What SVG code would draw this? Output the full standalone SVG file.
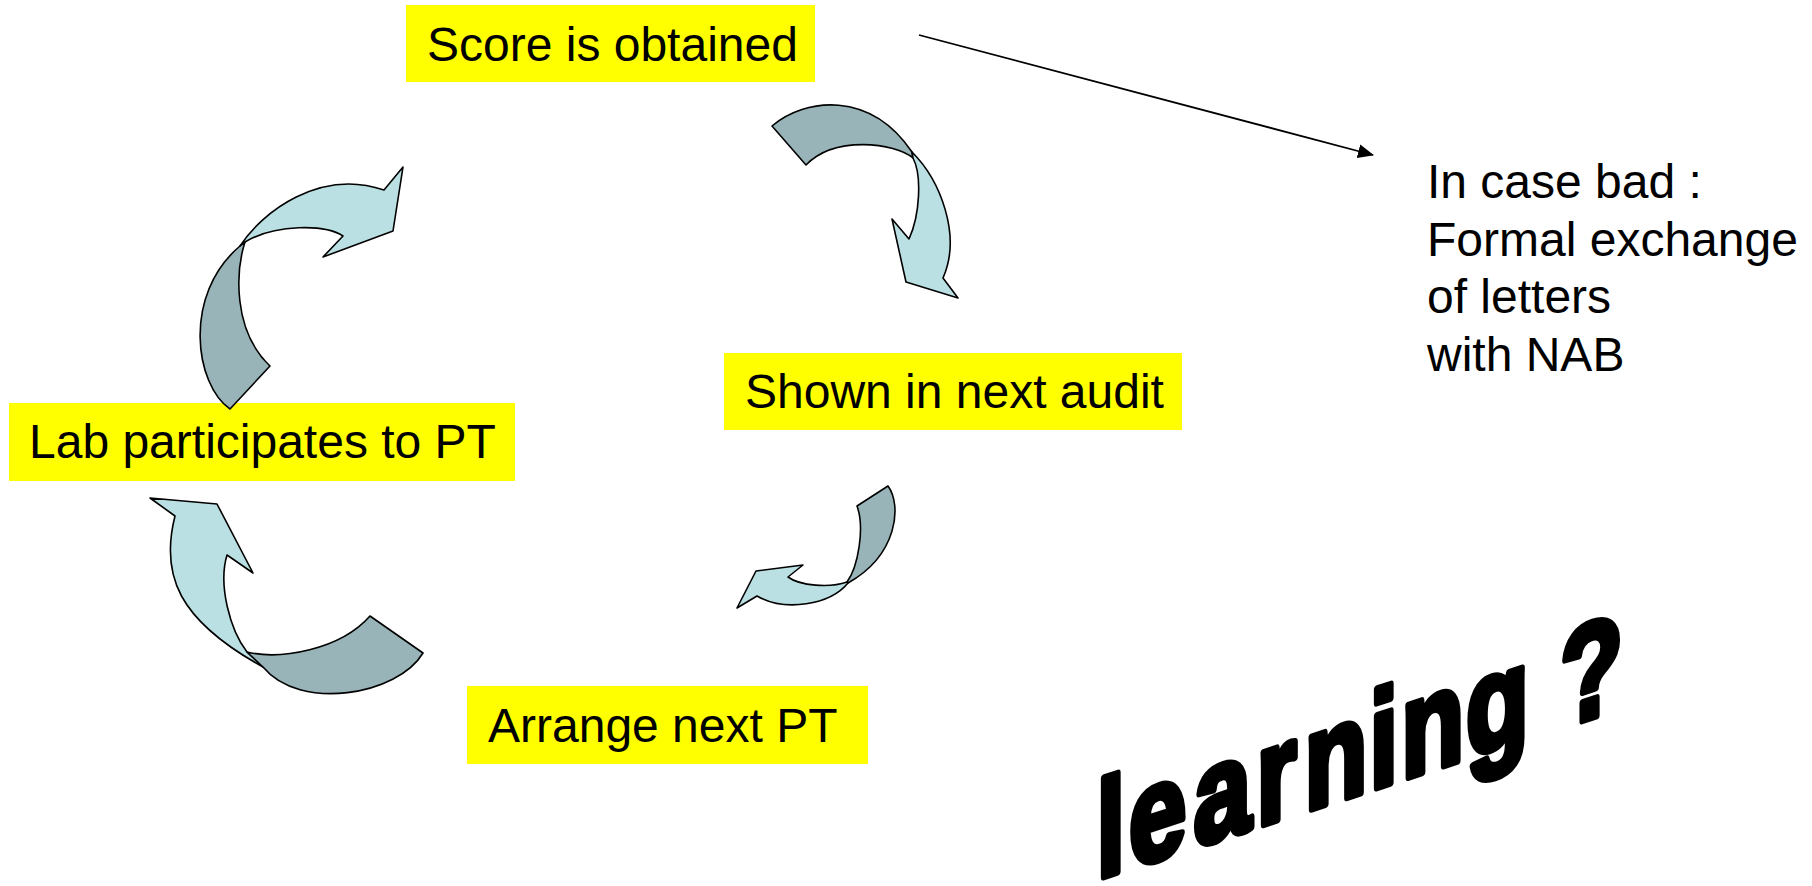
<svg xmlns="http://www.w3.org/2000/svg" width="1812" height="886" viewBox="0 0 1812 886">
<defs>
<style>
.box{fill:#FFFF00;stroke:none}
.lbl{font-family:"Liberation Sans",Arial,sans-serif;font-size:48px;fill:#000}
.front{fill:#BBE0E3;stroke:#000;stroke-width:1.6;stroke-linejoin:round}
.back{fill:#98B4B8;stroke:#000;stroke-width:1.6;stroke-linejoin:round}
.conn{stroke:#000;stroke-width:1.8;fill:none}
.big{font-family:"Liberation Sans",Arial,sans-serif;font-weight:bold;font-size:100px;fill:#000;stroke:#000;stroke-width:5.5;stroke-linejoin:round}
</style>
<marker id="ah" viewBox="0 0 16 14" refX="15" refY="7" markerWidth="16" markerHeight="14" markerUnits="userSpaceOnUse" orient="auto">
<path d="M0,0 L16,7 L0,14 Z" fill="#000"/>
</marker>
</defs>
<rect width="1812" height="886" fill="#fff"/>

<g id="node-score">
<rect class="box" x="406" y="5" width="409" height="77"/>
<text class="lbl" x="427" y="61">Score is obtained</text>
</g>
<g id="node-shown">
<rect class="box" x="724" y="353" width="458" height="77"/>
<text class="lbl" x="745" y="408">Shown in next audit</text>
</g>
<g id="node-arrange">
<rect class="box" x="467" y="686" width="401" height="78"/>
<text class="lbl" x="488" y="742">Arrange next PT</text>
</g>
<g id="node-lab">
<rect class="box" x="9" y="403" width="506" height="78"/>
<text class="lbl" x="29" y="458">Lab participates to PT</text>
</g>
<g id="node-note">
<text class="lbl" x="1427" y="198">In case bad :</text>
<text class="lbl" x="1427" y="256">Formal exchange</text>
<text class="lbl" x="1427" y="313">of letters</text>
<text class="lbl" x="1427" y="371">with NAB</text>
</g>

<g id="cycle-arrows">
<g id="arrow-lab-to-score">
<path class="back" d="M230,409 C195,385 182,295 240,246 L245,242 C236,270 232,330 270,366 Z"/>
<path class="front" d="M240,246 C262,212 320,168 384,190 L403,167 L393,231 L323,257 L343,236 C325,224 275,224 245,242 Z"/>
</g>
<g id="arrow-score-to-shown">
<path class="back" d="M772,126 C805,98 870,90 912,152 L913,158 C895,143 835,135 806,165 Z"/>
<path class="front" d="M912,152 C940,180 962,235 943,278 L958,298 L906,282 L892,219 L909,239 C920,215 922,175 913,158 Z"/>
</g>
<g id="arrow-shown-to-arrange">
<path class="back" d="M857,506 L888,486 C902,505 898,555 848,583 L847,582 C858,567 865,528 857,506 Z"/>
<path class="front" d="M848,583 C830,605 785,612 757,596 L737,608 L756,571 L803,565 L788,577 C800,586 830,588 847,582 Z"/>
</g>
<g id="arrow-arrange-to-lab">
<path class="front" d="M175,516 C160,575 178,620 263,667 L247,652 C230,630 218,585 227,555 L253,573 L217,504 L150,498 Z"/>
<path class="back" d="M247,652 C280,660 340,650 370,616 L423,653 C398,695 300,712 263,667 Z"/>
</g>
</g>

<g id="connectors">
<line class="conn" x1="919" y1="35" x2="1373" y2="155" marker-end="url(#ah)"/>
</g>

<g id="wordart">
<text class="big" transform="translate(1096.5,879) skewY(-18.06) scale(1.03,1.36)" x="0 31.6 94.3 155.3 201.9 265 296 358.7 420 450.2" y="0">learning ?</text>
</g>
</svg>
